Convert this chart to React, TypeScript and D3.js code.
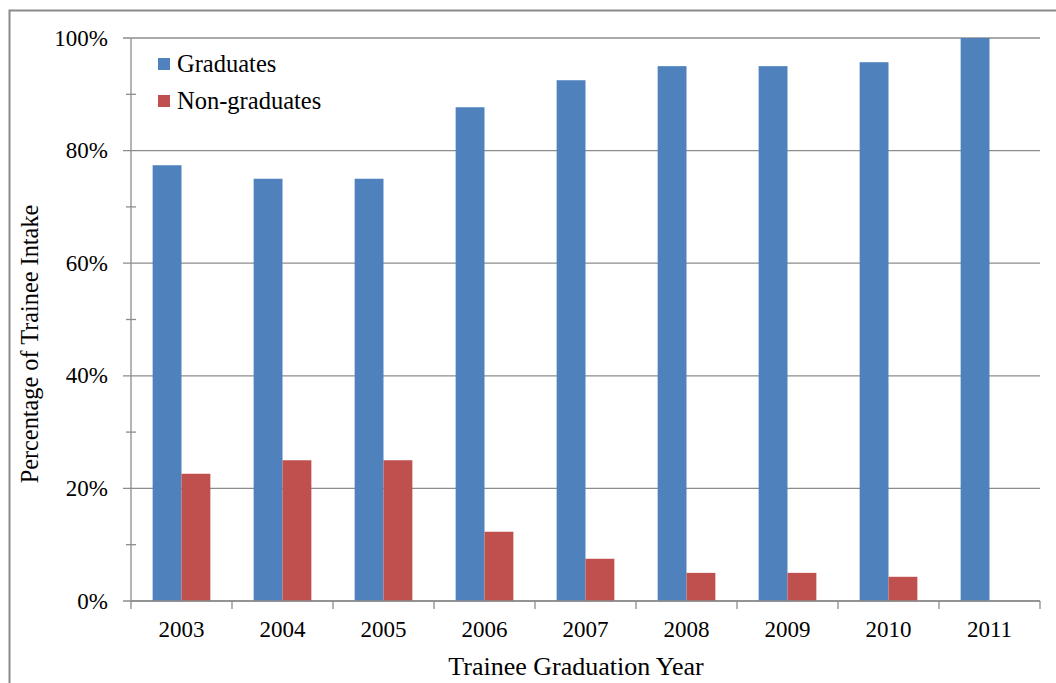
import * as d3 from "d3";

const years = ["2003", "2004", "2005", "2006", "2007", "2008", "2009", "2010", "2011"];
const graduates = [77.4, 75, 75, 87.7, 92.5, 95, 95, 95.7, 100];
const nonGraduates = [22.6, 25, 25, 12.3, 7.5, 5, 5, 4.3, 0];
const seriesNames = ["Graduates", "Non-graduates"];
const seriesColors = ["#4f81bd", "#c0504d"];
const yTicks = [0, 20, 40, 60, 80, 100];

export default function App() {
  const width = 1056;
  const height = 683;
  const left = 131;
  const right = 1040;
  const top = 38;
  const bottom = 601;
  const font = "'Liberation Serif', 'Times New Roman', serif";
  const grid = "#8c8c8c";

  const x = d3.scaleBand().domain(years).range([left, right]);
  const inner = d3
    .scaleBand()
    .domain(seriesNames)
    .range([0, x.bandwidth()])
    .paddingOuter(0.75)
    .paddingInner(0);
  const y = d3.scaleLinear().domain([0, 100]).range([bottom, top]);
  const minor = d3.range(10, 100, 20);
  const values = [graduates, nonGraduates];

  return (
    <svg
      width={width}
      height={height}
      style={{ position: "absolute", left: 0, top: 0, background: "#fff" }}
    >
      <rect x={9.5} y={10.5} width={1060} height={700} fill="none" stroke="#8a8a8a" strokeWidth={2} />

      {yTicks.map((t) => (
        <g key={t}>
          <line x1={left - 8} x2={right} y1={y(t)} y2={y(t)} stroke={grid} strokeWidth={1.3} />
          <text
            x={108}
            y={y(t) + 7.5}
            textAnchor="end"
            fontFamily={font}
            fontSize={23}
            fill="#000"
          >
            {t}%
          </text>
        </g>
      ))}
      {minor.map((t) => (
        <line key={t} x1={left - 5} x2={left + 5} y1={y(t)} y2={y(t)} stroke={grid} strokeWidth={1.3} />
      ))}
      <line x1={left} x2={left} y1={top} y2={bottom} stroke={grid} strokeWidth={1.3} />

      {years.map((yr, i) => (
        <g key={yr}>
          {seriesNames.map((s, j) => (
            <rect
              key={s}
              x={x(yr)! + inner(s)!}
              y={y(values[j][i])}
              width={inner.bandwidth()}
              height={y(0) - y(values[j][i])}
              fill={seriesColors[j]}
            />
          ))}
        </g>
      ))}

      <line x1={left} x2={right} y1={bottom} y2={bottom} stroke={grid} strokeWidth={1.3} />
      {[...years.map((yr) => x(yr)!), right].map((px, i) => (
        <line key={i} x1={px} x2={px} y1={bottom} y2={bottom + 8} stroke={grid} strokeWidth={1.3} />
      ))}
      {years.map((yr) => (
        <text
          key={yr}
          x={x(yr)! + x.bandwidth() / 2}
          y={637}
          textAnchor="middle"
          fontFamily={font}
          fontSize={23}
          fill="#000"
        >
          {yr}
        </text>
      ))}

      <text x={576} y={675} textAnchor="middle" fontFamily={font} fontSize={26} fill="#000">
        Trainee Graduation Year
      </text>
      <text
        transform={`translate(38, 344) rotate(-90)`}
        textAnchor="middle"
        fontFamily={font}
        fontSize={24.3}
        fill="#000"
      >
        Percentage of Trainee Intake
      </text>

      {seriesNames.map((s, j) => (
        <g key={s} transform={`translate(158, ${58 + j * 37})`}>
          <rect width={12} height={12} fill={seriesColors[j]} />
          <text x={19} y={14} fontFamily={font} fontSize={24.5} fill="#000">
            {s}
          </text>
        </g>
      ))}
    </svg>
  );
}
